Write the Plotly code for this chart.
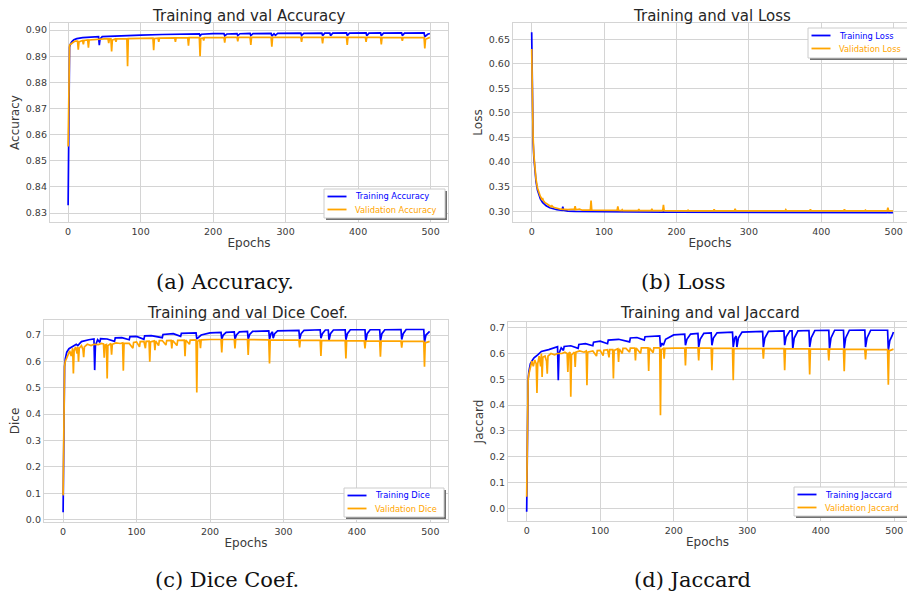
import plotly.graph_objects as go

# ---------------- data (epoch, value) ----------------
acc_train = [(0,0.833),(1,0.888),(2,0.8935),(3,0.8945),(5,0.8955),(8,0.8963),(12,0.8967),(20,0.8971),(30,0.8973),
    (42,0.8975),(43,0.8942),(44,0.8965),(47,0.8975),(60,0.8977),(80,0.8979),(100,0.8981),(130,0.8983),(160,0.8985),
    (181,0.8985),(182,0.8978),(184,0.8984),(200,0.8986),(215,0.8986),(216,0.8978),(219,0.8985),(233,0.8986),(234,0.8979),
    (237,0.8986),(251,0.8987),(252,0.8979),(255,0.8986),(280,0.8987),(281,0.8977),(284,0.8986),(286,0.8980),(289,0.8987),
    (321,0.8988),(322,0.8979),(325,0.8987),(350,0.8988),(351,0.8979),(354,0.8988),(361,0.8988),(362,0.8979),(365,0.8988),
    (384,0.8989),(385,0.8979),(388,0.8988),(411,0.8989),(412,0.8978),(415,0.8988),(431,0.8989),(432,0.8978),(435,0.8988),
    (460,0.8989),(461,0.8979),(464,0.8988),(491,0.8989),(492,0.8975),(496,0.8984),(499,0.8987)]
acc_val = [(0,0.8555),(1,0.8935),(2,0.8942),(3,0.8945),(5,0.8950),(8,0.8955),(10,0.8958),(13,0.8958),(14,0.8925),(15,0.8955),
    (18,0.8958),(20,0.8960),(21,0.8945),(22,0.8960),(27,0.8962),(28,0.8933),(29,0.8962),(40,0.8965),(50,0.8966),(55,0.8966),
    (56,0.8950),(57,0.8966),(59,0.8966),(60,0.8918),(61,0.8962),(65,0.8966),(66,0.8955),(67,0.8966),(81,0.8967),(82,0.8862),
    (83,0.8967),(100,0.8968),(117,0.8969),(118,0.8923),(119,0.8968),(124,0.8969),(125,0.8955),(126,0.8969),(147,0.8970),
    (148,0.8955),(149,0.8970),(165,0.8971),(166,0.8940),(167,0.8971),(181,0.8971),(182,0.8900),(183,0.8968),(186,0.8970),
    (187,0.8960),(188,0.8971),(200,0.8972),(215,0.8972),(216,0.8952),(217,0.8972),(233,0.8972),(234,0.8957),(235,0.8972),
    (251,0.8972),(252,0.8943),(253,0.8972),(280,0.8972),(281,0.8936),(282,0.8972),(300,0.8972),(321,0.8972),(322,0.8955),
    (323,0.8972),(350,0.8972),(351,0.8949),(352,0.8972),(384,0.8972),(385,0.8943),(386,0.8972),(410,0.8972),(411,0.8955),
    (412,0.8972),(431,0.8972),(432,0.8945),(433,0.8972),(460,0.8971),(461,0.8959),(462,0.8971),(491,0.8971),(492,0.8930),
    (493,0.8965),(499,0.8972)]

loss_train = [(0,0.664),(1,0.50),(2,0.44),(3,0.41),(4,0.39),(5,0.375),(6,0.36),(8,0.343),(10,0.332),(12,0.325),(15,0.318),
    (20,0.311),(25,0.307),(30,0.305),(35,0.303),(42,0.302),(43,0.309),(44,0.302),(50,0.300),(60,0.2995),(80,0.299),
    (100,0.2985),(150,0.298),(181,0.2978),(182,0.2988),(183,0.2978),(200,0.2978),(250,0.2975),(300,0.2973),(400,0.2971),
    (491,0.2970),(492,0.2980),(493,0.2971),(499,0.2970)]
loss_val = [(0,0.630),(1,0.52),(2,0.45),(3,0.415),(4,0.393),(5,0.378),(6,0.365),(8,0.347),(10,0.336),(12,0.330),(13,0.328),
    (14,0.323),(15,0.327),(16,0.322),(18,0.318),(20,0.316),(25,0.312),(27,0.309),(28,0.311),(30,0.308),(35,0.306),(40,0.304),
    (50,0.303),(56,0.303),(59,0.304),(60,0.310),(61,0.303),(66,0.304),(70,0.302),(81,0.302),(82,0.3215),(83,0.302),
    (100,0.3015),(118,0.3015),(119,0.310),(120,0.3015),(124,0.301),(125,0.303),(126,0.301),(147,0.301),(148,0.304),
    (149,0.301),(165,0.301),(166,0.305),(167,0.301),(181,0.301),(182,0.313),(183,0.301),(215,0.3008),(216,0.302),
    (217,0.3008),(233,0.3005),(234,0.302),(235,0.3005),(251,0.3005),(252,0.304),(253,0.3005),(280,0.3005),(281,0.305),
    (282,0.3005),(321,0.3005),(322,0.302),(323,0.3005),(350,0.3005),(351,0.303),(352,0.3005),(384,0.3005),(385,0.304),
    (386,0.3005),(410,0.3005),(411,0.302),(412,0.3005),(431,0.3005),(432,0.304),(433,0.3005),(460,0.3005),(461,0.302),
    (462,0.3005),(491,0.3005),(492,0.307),(493,0.3005),(499,0.3005)]

dice_train = [(0,0.028),(1,0.35),(2,0.58),(3,0.61),(5,0.635),(8,0.648),(12,0.655),(18,0.665),(20,0.660),(25,0.675),
    (35,0.682),(42,0.685),(43,0.567),(44,0.66),(47,0.682),(50,0.672),(51,0.686),(60,0.685),(70,0.676),(71,0.689),
    (80,0.690),(90,0.682),(91,0.694),(100,0.695),(110,0.684),(111,0.697),(120,0.698),(135,0.690),(136,0.702),
    (150,0.705),(160,0.695),(161,0.706),
    (181,0.708),(182,0.685),(184,0.690),(188,0.700),(200,0.708),(215,0.710),(216,0.684),(218,0.700),(222,0.710),
    (233,0.712),(234,0.684),(236,0.700),(240,0.712),(251,0.714),(252,0.684),(254,0.702),(258,0.714),(280,0.716),
    (281,0.684),(283,0.705),(285,0.712),(286,0.688),(288,0.705),(292,0.716),(321,0.718),(322,0.684),(324,0.705),
    (328,0.718),(350,0.720),(351,0.688),(353,0.705),(357,0.719),(361,0.719),(362,0.680),(364,0.705),(368,0.719),
    (384,0.720),(385,0.682),(387,0.705),(391,0.720),(411,0.720),(412,0.675),(414,0.705),(418,0.720),(431,0.720),
    (432,0.678),(434,0.705),(438,0.720),(460,0.721),(461,0.683),(463,0.705),(467,0.721),(491,0.721),(492,0.673),
    (494,0.700),(497,0.708),(499,0.714)]
dice_val = [(0,0.092),(1,0.45),(2,0.58),(3,0.60),(5,0.615),(7,0.63),(9,0.64),(11,0.62),(12,0.645),(13,0.65),(14,0.554),
    (15,0.64),(17,0.655),(19,0.63),(20,0.655),(21,0.599),(22,0.65),(25,0.66),(27,0.645),(28,0.616),(29,0.655),(33,0.665),
    (38,0.66),(42,0.665),(48,0.664),(52,0.668),(55,0.666),(56,0.614),(57,0.662),(59,0.664),(60,0.535),(61,0.66),(65,0.668),
    (66,0.625),(67,0.665),(72,0.670),(78,0.668),(81,0.670),(82,0.565),(83,0.668),(90,0.668),(95,0.650),(96,0.672),
    (100,0.674),(104,0.655),(105,0.675),(110,0.676),(112,0.650),(113,0.676),
    (117,0.677),(118,0.599),(119,0.674),(124,0.678),(125,0.643),(126,0.678),(130,0.660),(131,0.679),(135,0.679),
    (140,0.662),(141,0.679),(147,0.680),(148,0.649),(149,0.680),(155,0.660),(156,0.680),
    (165,0.681),(166,0.620),(167,0.681),(172,0.665),(173,0.681),(181,0.682),(182,0.482),(183,0.676),(186,0.682),
    (187,0.650),(188,0.682),
    (200,0.683),(215,0.683),(216,0.634),(217,0.683),(233,0.683),(234,0.649),(235,0.683),(251,0.683),(252,0.624),
    (253,0.683),(280,0.682),(281,0.592),(282,0.682),(300,0.682),(321,0.681),(322,0.653),(323,0.681),(350,0.680),
    (351,0.621),(352,0.680),(384,0.679),(385,0.611),(386,0.679),(410,0.678),(411,0.649),(412,0.678),(431,0.677),
    (432,0.618),(433,0.677),(460,0.677),(461,0.652),(462,0.677),(491,0.676),(492,0.580),(493,0.670),(499,0.676)]

jac_train = [(0,-0.013),(1,0.30),(2,0.50),(3,0.53),(5,0.56),(8,0.575),(10,0.583),(15,0.595),(20,0.608),(30,0.615),
    (40,0.625),(42,0.626),(43,0.496),(44,0.60),(47,0.622),(50,0.612),(51,0.627),(60,0.630),(70,0.620),(71,0.635),
    (80,0.638),(90,0.630),(91,0.644),(100,0.648),(110,0.638),(111,0.652),(125,0.655),(140,0.645),(141,0.660),
    (150,0.662),(160,0.652),(161,0.665),
    (181,0.668),(182,0.625),(184,0.640),(186,0.632),(189,0.655),(200,0.672),(215,0.675),(216,0.632),(218,0.655),
    (223,0.675),(233,0.678),(234,0.625),(236,0.655),(241,0.678),(251,0.680),(252,0.632),(254,0.660),(259,0.680),
    (280,0.683),(281,0.625),(283,0.660),(285,0.668),(286,0.625),(288,0.660),(293,0.683),(321,0.686),(322,0.625),
    (324,0.660),(329,0.686),(350,0.688),(351,0.632),(353,0.665),(358,0.688),(361,0.688),(362,0.619),(364,0.660),
    (369,0.688),(384,0.689),(385,0.625),(387,0.660),(392,0.689),(411,0.690),(412,0.619),(414,0.660),(419,0.690),
    (431,0.690),(432,0.619),(434,0.660),(439,0.690),(460,0.691),(461,0.625),(463,0.660),(468,0.690),(491,0.690),
    (492,0.612),(494,0.650),(497,0.668),(499,0.683)]
jac_val = [(0,0.045),(1,0.40),(2,0.50),(3,0.52),(5,0.545),(7,0.57),(9,0.55),(11,0.575),(13,0.56),(14,0.447),(15,0.56),
    (17,0.59),(19,0.55),(20,0.60),(21,0.509),(22,0.585),(25,0.59),(27,0.57),(28,0.522),(29,0.59),(33,0.60),(38,0.595),
    (42,0.60),(48,0.60),(52,0.605),(55,0.60),(56,0.528),(57,0.60),(59,0.605),(60,0.432),(61,0.595),(65,0.605),(66,0.548),
    (67,0.605),(72,0.61),(78,0.605),(81,0.61),(82,0.477),(83,0.605),(90,0.61),(95,0.590),(96,0.611),(100,0.612),
    (104,0.592),(105,0.613),(110,0.615),(112,0.585),(113,0.615),(117,0.615),
    (118,0.503),(119,0.612),(124,0.618),(125,0.567),(126,0.618),(130,0.600),(131,0.620),(135,0.620),(140,0.605),
    (141,0.621),(147,0.621),(148,0.573),(149,0.621),(155,0.600),(156,0.622),
    (165,0.622),(166,0.532),(167,0.622),(172,0.603),(173,0.622),(181,0.622),(182,0.361),(183,0.615),(186,0.620),
    (187,0.580),(188,0.620),
    (200,0.621),(215,0.622),(216,0.554),(217,0.622),(233,0.622),(234,0.573),(235,0.622),(251,0.621),(252,0.535),
    (253,0.621),(280,0.620),(281,0.496),(282,0.620),(300,0.620),(321,0.619),(322,0.580),(323,0.619),(350,0.619),
    (351,0.535),(352,0.619),(384,0.618),(385,0.519),(386,0.618),(410,0.617),(411,0.573),(412,0.617),(431,0.617),
    (432,0.531),(433,0.617),(460,0.616),(461,0.577),(462,0.616),(491,0.615),(492,0.479),(493,0.610),(499,0.617)]

titles = ["Training and val Accuracy", "Training and val Loss", "Training and val Dice Coef.", "Training and val Jaccard"]
ylabels = ["Accuracy", "Loss", "Dice", "Jaccard"]
captions = ["(a) Accuracy.", "(b) Loss", "(c) Dice Coef.", "(d) Jaccard"]
train_names = ["Training Accuracy", "Training Loss", "Training Dice", "Training Jaccard"]
val_names = ["Validation Accuracy", "Validation Loss", "Validation Dice", "Validation Jaccard"]
series = [(acc_train, acc_val), (loss_train, loss_val), (dice_train, dice_val), (jac_train, jac_val)]
y_ticks = [[0.83, 0.84, 0.85, 0.86, 0.87, 0.88, 0.89, 0.90],
           [0.30, 0.35, 0.40, 0.45, 0.50, 0.55, 0.60, 0.65],
           [0.0, 0.1, 0.2, 0.3, 0.4, 0.5, 0.6, 0.7],
           [0.0, 0.1, 0.2, 0.3, 0.4, 0.5, 0.6, 0.7]]
x_ticks = [0, 100, 200, 300, 400, 500]

# ---------------- layout geometry (pixels) ----------------
W, H = 907, 597
boxes = [(50, 448, 23, 222), (513, 907, 23, 222), (44, 448, 320, 522), (508, 907, 322, 521)]
xranges = [[-25, 524], [-25.8, 518.4], [-26, 524], [-25.4, 517.4]]
yranges = [[0.8266, 0.9027], [0.278, 0.683], [-0.009, 0.757], [-0.049, 0.722]]
yfmt = [".2f", ".2f", ".1f", ".1f"]
title_pos = [(249, 15.5), (712, 15.5), (247, 313), (710, 313)]
caption_pos = [(225, 282), (683, 282), (227, 580), (692, 580)]
# legend boxes: x0, y0, x1, y1
legend_boxes = [(324, 189, 445, 218), (808, 28, 926, 58), (344, 488, 444, 517), (794, 487, 912, 516)]

BLUE, ORANGE = "#0000ff", "#ffa500"
GRID = "#d4d4d4"
TXT = "#3a3a3a"
FONT = "DejaVu Sans"

fig = go.Figure()
layout = dict(width=W, height=H, margin=dict(l=0, r=0, t=0, b=0),
              paper_bgcolor="white", plot_bgcolor="white", showlegend=False,
              font=dict(family=FONT, color=TXT))
annotations = []
shapes = []


def px(x):
    return x / W


def py(y):
    return 1 - y / H


for i in range(4):
    k = "" if i == 0 else str(i + 1)
    L, R, T, B = boxes[i]
    xa = dict(domain=[L / W, R / W], range=xranges[i], tickvals=x_ticks, showgrid=True, gridcolor=GRID,
              gridwidth=1, zeroline=False, showline=True, mirror=True, linecolor=GRID, linewidth=1.3,
              tickfont=dict(size=9.5, color=TXT, family=FONT), ticks="", anchor="y" + k, automargin=False,
              title=dict(text="Epochs", font=dict(size=12, color=TXT), standoff=3))
    ya = dict(domain=[1 - B / H, 1 - T / H], range=yranges[i], tickvals=y_ticks[i], tickformat=yfmt[i],
              showgrid=True, gridcolor=GRID, gridwidth=1, zeroline=False, showline=True, mirror=True,
              linecolor=GRID, linewidth=1.3, tickfont=dict(size=9.5, color=TXT, family=FONT),
              ticks="", anchor="x" + k, automargin=False,
              title=dict(text=ylabels[i], font=dict(size=12, color=TXT), standoff=3))
    layout["xaxis" + k] = xa
    layout["yaxis" + k] = ya

    tr, va = series[i]
    fig.add_trace(go.Scatter(x=[p[0] for p in tr], y=[p[1] for p in tr], mode="lines",
                             line=dict(color=BLUE, width=1.7), name=train_names[i],
                             xaxis="x" + k, yaxis="y" + k))
    fig.add_trace(go.Scatter(x=[p[0] for p in va], y=[p[1] for p in va], mode="lines",
                             line=dict(color=ORANGE, width=1.7), name=val_names[i],
                             xaxis="x" + k, yaxis="y" + k))

    # legend box (shadow, frame, line samples, coloured labels)
    x0, y0, x1, y1 = legend_boxes[i]
    shapes.append(dict(type="rect", xref="paper", yref="paper", x0=px(x0 + 2), x1=px(x1 + 2),
                       y0=py(y1 + 2), y1=py(y0 + 2), fillcolor="#707070", line=dict(width=0)))
    shapes.append(dict(type="rect", xref="paper", yref="paper", x0=px(x0), x1=px(x1),
                       y0=py(y1), y1=py(y0), fillcolor="white", line=dict(color="#cccccc", width=1)))
    rows = [y0 + 7.5, y0 + 20.5]
    for (yy, col, nm) in [(rows[0], BLUE, train_names[i]), (rows[1], ORANGE, val_names[i])]:
        shapes.append(dict(type="line", xref="paper", yref="paper", x0=px(x0 + 3.5), x1=px(x0 + 22.5),
                           y0=py(yy), y1=py(yy), line=dict(color=col, width=1.8)))
        annotations.append(dict(text=nm, x=px(x0 + 28.5), y=py(yy), xref="paper", yref="paper",
                                xanchor="left", yanchor="middle", showarrow=False,
                                font=dict(size=8.3, color=col, family=FONT)))

    tx, ty = title_pos[i]
    annotations.append(dict(text=titles[i], x=px(tx), y=py(ty), xref="paper", yref="paper",
                            xanchor="center", yanchor="middle", showarrow=False,
                            font=dict(size=15, color="#262626", family=FONT)))
    cx, cy = caption_pos[i]
    annotations.append(dict(text=captions[i], x=px(cx), y=py(cy), xref="paper", yref="paper",
                            xanchor="center", yanchor="middle", showarrow=False,
                            font=dict(size=21, color="#111111", family="DejaVu Serif")))

layout["annotations"] = annotations
layout["shapes"] = shapes
fig.update_layout(**layout)
fig.write_html("out.html", config={"displayModeBar": False},
               post_script="document.body.style.margin='0px';document.body.style.padding='0px';"
                           "document.body.style.overflow='hidden';")
